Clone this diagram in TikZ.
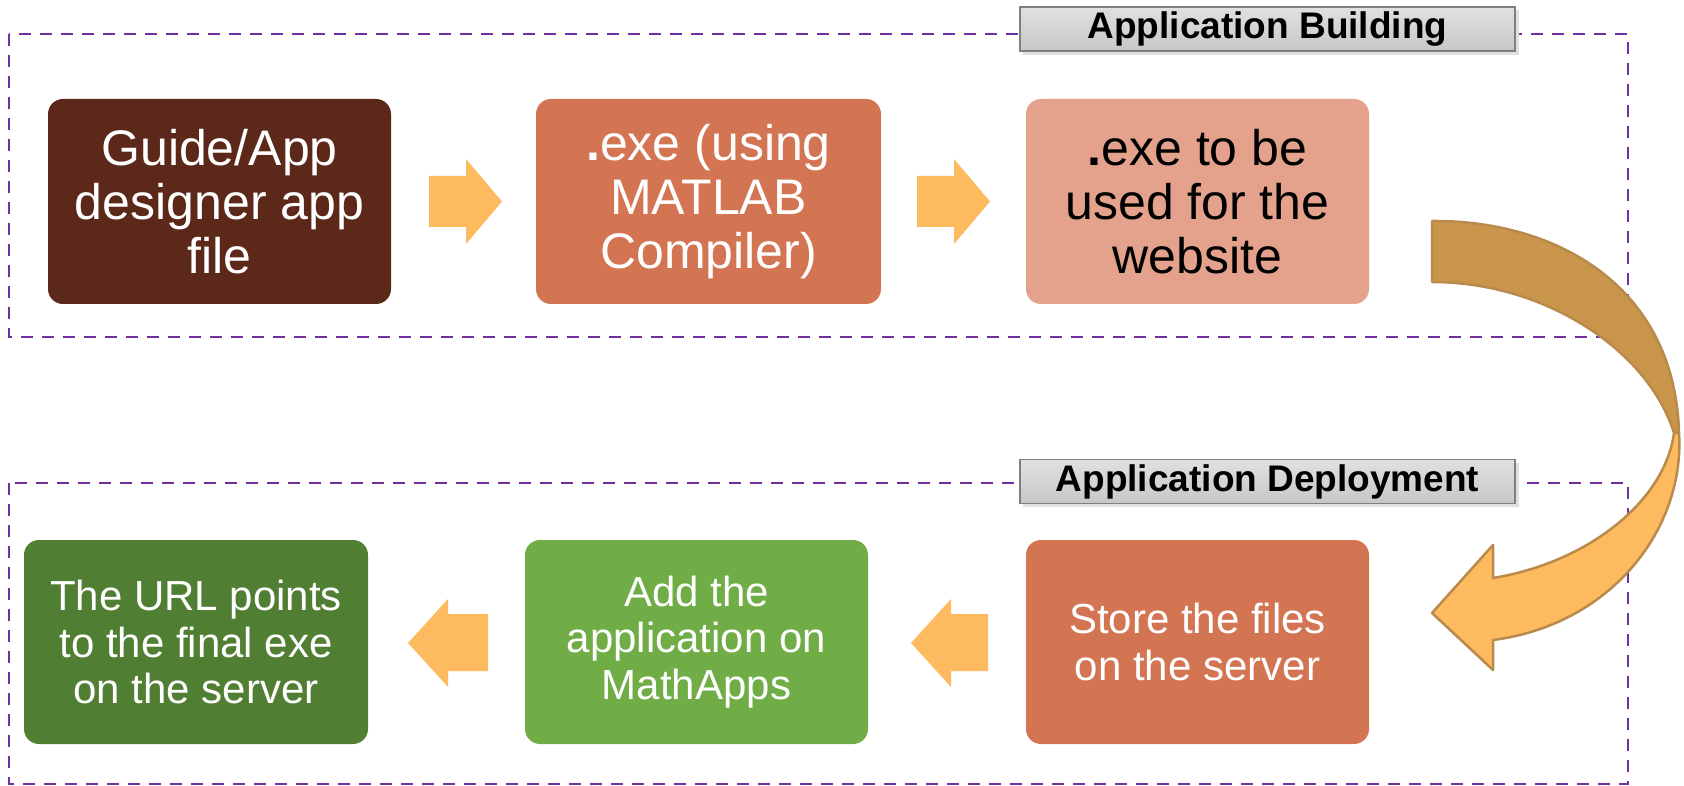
\documentclass[tikz,border=0pt]{standalone}
\usepackage{fontspec}
\setmainfont{Liberation Sans}
\definecolor{dashpurple}{HTML}{7030A0}
\definecolor{cBrown}{HTML}{5C2819}
\definecolor{cOrange}{HTML}{D37452}
\definecolor{cPeach}{HTML}{E4A28C}
\definecolor{cGreen}{HTML}{70AD47}
\definecolor{cDkGreen}{HTML}{507E32}
\definecolor{cArrow}{HTML}{FDBA5E}
\definecolor{cTan}{HTML}{C8954B}
\definecolor{cTanEdge}{HTML}{B98A4C}
\definecolor{cLabEdge}{HTML}{7F7F7F}
\tikzset{
  groupbox/.style={draw=dashpurple, line width=2pt, dash pattern=on 12pt off 9pt},
  stepbox/.style={rounded corners=15pt, text=white, align=center, inner sep=0pt},
  bigtext/.style={font=\fontsize{50}{54}\selectfont},
  smalltext/.style={font=\fontsize{42}{46.5}\selectfont},
  labbox/.style={draw=cLabEdge, line width=1.8pt, top color=white!88!black, bottom color=white!78!black,
    minimum width=495pt, minimum height=44pt, inner sep=0pt, font=\fontsize{37}{40}\selectfont\bfseries},
  blockarrow/.style={fill=cArrow},
}
\begin{document}
\begin{tikzpicture}[x=1pt,y=-1pt]
\useasboundingbox (0,0) rectangle (1684,786);
% group frames
\draw[groupbox] (9,34) rectangle (1628,337);
\draw[groupbox] (9,483) rectangle (1628,784);
% label shadows
\fill[black!12] (1023,10) rectangle (1519,55);
\fill[black!12] (1023,463) rectangle (1519,507);
% labels
\node[labbox] (lab1) at (1267.5,29) {Application Building};
\node[labbox] (lab2) at (1267.5,481.5) {Application Deployment};
% top row
\node[stepbox, bigtext, fill=cBrown, minimum width=343pt, minimum height=205pt] (b1) at (219.5,201.5) {Guide/App\\designer app\\file};
\node[stepbox, bigtext, fill=cOrange, minimum width=345pt, minimum height=205pt] (b2) at (708.5,201.5) {\textbf{.}exe (using\\MATLAB\\Compiler)};
\node[stepbox, bigtext, text=black, fill=cPeach, minimum width=343pt, minimum height=205pt] (b3) at (1197.5,201.5) {\textbf{.}exe to be\\used for the\\website};
% bottom row
\node[stepbox, smalltext, fill=cDkGreen, minimum width=344pt, minimum height=204pt] (b4) at (196,642) {The URL points\\to the final exe\\on the server};
\node[stepbox, smalltext, fill=cGreen, minimum width=343pt, minimum height=204pt] (b5) at (696.5,642) {Add the\\application on\\MathApps};
\node[stepbox, smalltext, fill=cOrange, minimum width=343pt, minimum height=204pt] (b6) at (1197.5,642) {Store the files\\on the server};
% small block arrows
\fill[blockarrow] (429,176) -- (466,176) -- (466,159) -- (502,201.5) -- (466,244) -- (466,227) -- (429,227) -- cycle;
\fill[blockarrow] (917,176) -- (954,176) -- (954,159) -- (990,201.5) -- (954,244) -- (954,227) -- (917,227) -- cycle;
\fill[blockarrow] (988,614) -- (951,614) -- (951,599) -- (911,643) -- (951,687) -- (951,671) -- (988,671) -- cycle;
\fill[blockarrow] (488,614) -- (448,614) -- (448,599) -- (408,643) -- (448,687) -- (448,671) -- (488,671) -- cycle;
% curved arrow from b3 to b6
\draw[fill=cTan, draw=cTanEdge, line width=2.5pt, line join=round]
  (1432,221) .. controls (1555,220) and (1675,285) .. (1679,433)
  -- (1674,433) .. controls (1648,350) and (1545,282) .. (1432,282) -- cycle;
\draw[fill=cArrow, draw=cTanEdge, line width=2.5pt, line join=round]
  (1679,433) .. controls (1685,530) and (1610,625) .. (1493,640)
  -- (1493,670) -- (1432,613) -- (1493,545) -- (1493,578)
  .. controls (1590,562) and (1665,500) .. (1674,433) -- cycle;
\end{tikzpicture}
\end{document}
